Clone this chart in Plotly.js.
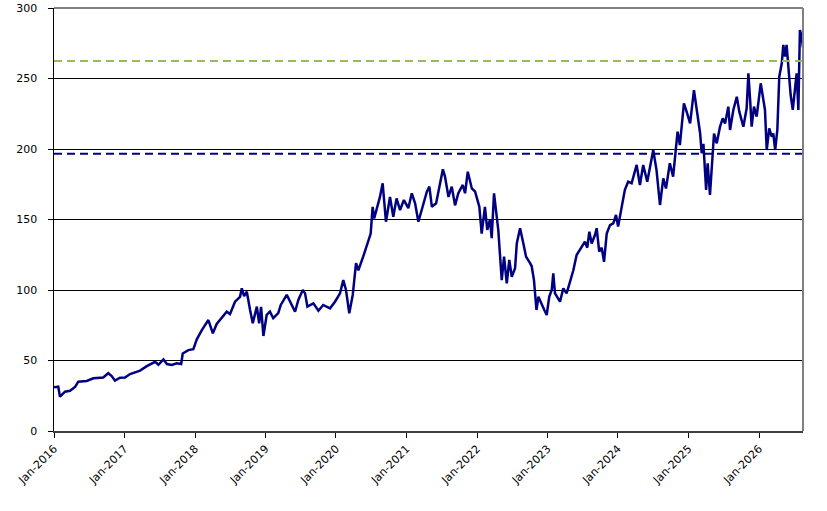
<!DOCTYPE html>
<html>
<head>
<meta charset="utf-8">
<script src="https://cdn.plot.ly/plotly-3.0.1.min.js"></script>
<style>html,body{margin:0;padding:0;background:#fff;}#chart{width:827px;height:511px;}</style>
</head>
<body>
<div id="chart"></div>
<script>
const dates = [
"2016-01-01","2016-01-23","2016-02-01","2016-02-27","2016-03-24","2016-04-19","2016-05-06","2016-06-18","2016-07-23","2016-09-12","2016-10-08","2016-10-26","2016-11-12","2016-12-08",
"2017-01-03","2017-01-29","2017-03-22","2017-04-26","2017-06-08","2017-06-25","2017-07-21","2017-08-08","2017-09-02","2017-09-28","2017-10-21","2017-10-29","2017-11-27","2017-12-23",
"2018-01-10","2018-02-05","2018-03-11","2018-04-03","2018-04-23","2018-05-19","2018-06-14","2018-07-01","2018-07-27","2018-08-22","2018-08-31","2018-09-12","2018-09-26","2018-10-13","2018-10-27","2018-11-17","2018-11-29","2018-12-09","2018-12-21",
"2019-01-07","2019-01-24","2019-02-10","2019-03-08","2019-03-21","2019-04-21","2019-05-04","2019-06-03","2019-06-20","2019-07-13","2019-07-25","2019-08-06","2019-09-06","2019-10-02","2019-10-27","2019-12-01","2019-12-27",
"2020-01-22","2020-02-08","2020-02-22","2020-03-10","2020-03-28","2020-04-14","2020-04-26","2020-05-21","2020-06-16","2020-06-29","2020-07-09","2020-07-17","2020-08-02","2020-08-16","2020-08-30","2020-09-07","2020-09-16","2020-10-07","2020-10-24","2020-11-10","2020-11-28","2020-12-18",
"2021-01-10","2021-01-28","2021-02-14","2021-03-03","2021-03-21","2021-04-16","2021-04-29","2021-05-12","2021-06-03","2021-06-20","2021-07-08","2021-07-19","2021-08-06","2021-08-23","2021-09-09","2021-09-26","2021-10-19","2021-10-31","2021-11-14","2021-12-05","2021-12-22",
"2022-01-13","2022-01-25","2022-02-11","2022-02-23","2022-03-09","2022-03-18","2022-03-30","2022-04-13","2022-04-21","2022-05-09","2022-05-21","2022-06-04","2022-06-17","2022-06-30","2022-07-17","2022-07-26","2022-08-12","2022-08-29","2022-09-12","2022-09-29","2022-10-11","2022-10-23","2022-11-05","2022-11-15","2022-12-02","2022-12-15","2022-12-28",
"2023-01-10","2023-01-23","2023-01-31","2023-02-09","2023-03-07","2023-03-24","2023-04-10","2023-04-28","2023-05-15","2023-06-01","2023-06-18","2023-07-14","2023-07-26","2023-08-06","2023-08-18","2023-09-04","2023-09-13","2023-09-26","2023-10-09","2023-10-21","2023-11-04","2023-11-21","2023-12-08","2023-12-22",
"2024-01-02","2024-01-15","2024-01-28","2024-02-06","2024-02-23","2024-03-12","2024-04-07","2024-04-24","2024-05-11","2024-06-01","2024-07-02","2024-07-19","2024-08-06","2024-08-23","2024-09-06","2024-09-26","2024-10-13","2024-11-05","2024-11-17","2024-12-08","2024-12-22",
"2025-01-09","2025-01-29","2025-02-12","2025-03-02","2025-03-10","2025-03-19","2025-04-02","2025-04-10","2025-04-22","2025-05-01","2025-05-13","2025-05-27","2025-06-13","2025-06-27","2025-07-09","2025-07-26","2025-08-04","2025-08-21","2025-09-08","2025-09-21","2025-10-12","2025-10-29","2025-11-07","2025-11-16","2025-11-24","2025-12-06","2025-12-20",
"2026-01-10","2026-01-23","2026-02-01","2026-02-10","2026-02-23","2026-03-08","2026-03-16","2026-03-26","2026-04-06","2026-04-16","2026-04-29","2026-05-07","2026-05-16","2026-05-24","2026-06-04","2026-06-14","2026-06-25","2026-07-06","2026-07-15","2026-07-24","2026-08-01","2026-08-10","2026-08-17"
];
const prices = [
31,31.4,24.3,27.9,28.5,31.2,35,35.5,37.4,38,41,39,35.7,37.8,
38,40.4,42.8,46,49.1,47,50.8,47.5,46.8,48,47.5,55,57.4,58,
65,71.6,78.7,69.3,75.9,80,84.6,83,91.7,95.2,101.2,95.7,98.8,85.8,76.4,88.2,76.4,88,67.4,
82.3,84.6,80,83.6,89.4,96.5,93,84.6,93,100,97.6,88.2,90.5,85.3,89.4,87,91.7,
97.6,107,100,83.5,96.5,119,114,123.6,134,140,159,150.8,159,166,175.7,160,148.4,166,152,165,156.7,163.8,
158,168.6,161.5,148.4,156.7,169.7,173.3,159,161.5,173.3,185.6,180.4,166,173.3,160,168.6,174.5,168.6,183.9,172,169.7,
159,140,159,142.6,150,136.7,168.6,152,142.6,107,123.6,104.7,121.3,109.4,115.4,133,143.8,133,123.6,120,117,107,85.8,95.2,89.4,86,82.3,
95.2,100,111.8,97.6,91.7,101.2,97.6,105.9,114,124.8,128.4,134.3,130,141.3,133,139,143.8,127.2,130,120,140,146,147.3,153.2,
145,155.5,165,171,176.8,175.7,188.7,174.5,188.7,176.8,199.3,185,160.3,179.2,172,189.9,180.4,212.3,202.8,232.4,226.5,
218.2,241.8,228.9,211,197,203.6,171,189.9,167.4,187.5,211,204,215.8,221.8,218,230,213.5,227.7,237,226.5,215.8,228.9,253.7,234.8,215.8,230,223,
246.6,237,227.7,199.3,214.7,208.7,211,199.3,213.5,251.3,260.8,273.8,265.5,273.8,253.7,238.3,227.7,245.4,253.7,227.7,284.4,279.6,272
];
const tickDates = ["2016-01-01","2017-01-01","2018-01-01","2019-01-01","2020-01-01","2021-01-01","2022-01-01","2023-01-01","2024-01-01","2025-01-01","2026-01-01"];
const tickLabels = ["Jan-2016","Jan-2017","Jan-2018","Jan-2019","Jan-2020","Jan-2021","Jan-2022","Jan-2023","Jan-2024","Jan-2025","Jan-2026"];
const yTicks = [0,50,100,150,200,250,300];
const upperLevel = [262.5];
const lowerLevel = [196.7];
const xStart = "2016-01-01", xEnd = "2026-08-17";

const trace = {
  x: dates, y: prices, type: "scatter", mode: "lines",
  line: {color: "#000080", width: 2.5}, hoverinfo: "skip"
};

const shapes = [
  {type:"line", xref:"paper", yref:"y", x0:0, x1:1, y0:upperLevel[0], y1:upperLevel[0],
   line:{color:"#9BBB59", width:2, dash:"8px,5px"}},
  {type:"line", xref:"paper", yref:"y", x0:0, x1:1, y0:lowerLevel[0], y1:lowerLevel[0],
   line:{color:"#000080", width:2, dash:"8px,5px"}},
  {type:"line", xref:"paper", yref:"paper", x0:0, x1:1, y0:1, y1:1, line:{color:"#808080", width:2}},
  {type:"line", xref:"paper", yref:"paper", x0:1, x1:1, y0:0, y1:1, line:{color:"#808080", width:2}}
];

const layout = {
  width: 827, height: 511,
  margin: {l: 54, r: 24, t: 8, b: 80},
  paper_bgcolor: "#ffffff", plot_bgcolor: "#ffffff",
  showlegend: false,
  font: {family: "DejaVu Sans, Verdana, sans-serif", size: 11, color: "#000"},
  xaxis: {
    type: "date", range: [xStart, xEnd],
    tickvals: tickDates, ticktext: tickLabels, tickangle: -45,
    ticks: "outside", ticklen: 5, tickcolor: "#000", tickwidth: 1,
    showgrid: false, zeroline: false,
    showline: true, linecolor: "#404040", linewidth: 2,
    tickfont: {size: 11, color: "#000"}
  },
  yaxis: {
    range: [0, 300], tickvals: yTicks,
    ticks: "outside", ticklen: 5, tickcolor: "#000", tickwidth: 1,
    showgrid: true, gridcolor: "#000", gridwidth: 1,
    zeroline: false, showline: true, linecolor: "#000", linewidth: 1.5,
    ticklabelstandoff: 8,
    tickfont: {size: 11, color: "#000"}
  },
  shapes: shapes
};

Plotly.newPlot("chart", [trace], layout, {staticPlot: true, displayModeBar: false});
</script>
</body>
</html>
